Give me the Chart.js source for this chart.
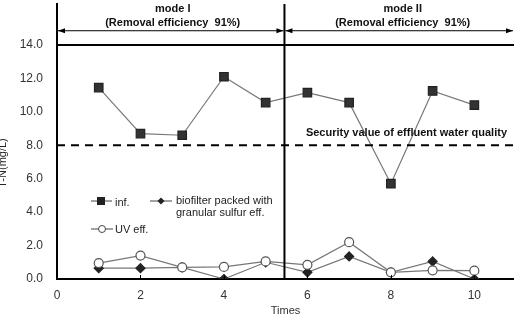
<!DOCTYPE html>
<html><head><meta charset="utf-8">
<script src="https://cdn.jsdelivr.net/npm/chart.js@4"></script>
<style>html,body{margin:0;padding:0;background:#fff}#wrap{width:514px;height:318px}</style>
</head><body><div id="wrap"><canvas id="c" width="514" height="318"></canvas></div>
<script>
const times = [1,2,3,4,5,6,7,8,9,10];
const infValues = [11.45, 8.7, 8.6, 12.1, 10.55, 11.15, 10.55, 5.7, 11.25, 10.4];
const biofilterValues = [0.65, 0.65, 0.7, 0.0, 1.0, 0.4, 1.35, 0.4, 1.05, 0.0];
const uvValues = [0.95, 1.4, 0.7, 0.72, 1.05, 0.85, 2.2, 0.4, 0.52, 0.5];
const xTicks = [0,2,4,6,8,10];
const yTicks = [0,2,4,6,8,10,12,14];
const securityValue = 8.0;
const upperLine = 14.0;
const modeBoundary = 5.45;
const xMax = 10.95, yMax = 16.45;
const modeLabels = ["mode I","mode II"];
const modeSubLabel = "(Removal efficiency  91%)";
const securityLabel = "Security value of effluent water quality";
const legendLabels = ["inf.", ["biofilter packed with","granular sulfur eff."], "UV eff."];

const pts = v => times.map((t,i)=>({x:t,y:v[i]}));
const FONT = "'Liberation Sans', Arial, sans-serif";

const overlay = {
  id:'overlay',
  afterDatasetsDraw(chart){
    const {ctx, scales:{x,y}} = chart;
    ctx.save();
    // arrows
    const ay = y.getPixelForValue(14.85);
    const x0 = x.getPixelForValue(0), xb = x.getPixelForValue(modeBoundary), x1 = chart.width-1;
    ctx.strokeStyle='#000'; ctx.fillStyle='#000'; ctx.lineWidth=1;
    const arrow=(a,b)=>{
      ctx.beginPath(); ctx.moveTo(a,ay); ctx.lineTo(b,ay); ctx.stroke();
      [[a,1],[b,-1]].forEach(([p,d])=>{ctx.beginPath();ctx.moveTo(p,ay);ctx.lineTo(p+7*d,ay-2.5);ctx.lineTo(p+7*d,ay+2.5);ctx.closePath();ctx.fill();});
    };
    arrow(x0+1,xb-1); arrow(xb+1,x1);
    // mode labels
    ctx.fillStyle='#111'; ctx.textAlign='center'; ctx.textBaseline='middle';
    ctx.font="bold 11px "+FONT;
    ctx.fillText(modeLabels[0],(x0+xb)/2+2,9);
    ctx.fillText(modeSubLabel,(x0+xb)/2+2,23);
    ctx.fillText(modeLabels[1],(xb+x1)/2+4,9);
    ctx.fillText(modeSubLabel,(xb+x1)/2+4,23);
    // security label
    ctx.textAlign='right';
    ctx.fillText(securityLabel,507,y.getPixelForValue(securityValue)-12);
    // y axis title (cut at left)
    ctx.save();
    ctx.translate(3,163); ctx.rotate(-Math.PI/2);
    ctx.textAlign='center'; ctx.font="11px "+FONT; ctx.fillStyle='#222';
    ctx.fillText("T-N(mg/L)",0,0);
    ctx.restore();
    // x tick marks inside
    ctx.strokeStyle='#000'; ctx.lineWidth=1;
    xTicks.forEach(t=>{ if(t===0) return; const px=Math.round(x.getPixelForValue(t))+0.5; ctx.beginPath(); ctx.moveTo(px,y.getPixelForValue(0)); ctx.lineTo(px,y.getPixelForValue(0)-4); ctx.stroke();});
    // legend
    ctx.lineWidth=1; ctx.strokeStyle='#444';
    ctx.textAlign='left'; ctx.font="11px "+FONT; ctx.fillStyle='#222';
    // inf
    ctx.beginPath(); ctx.moveTo(91,201); ctx.lineTo(112,201); ctx.stroke();
    ctx.fillStyle='#222'; ctx.fillRect(97,197,8,8);
    ctx.fillText(legendLabels[0],115,203);
    // biofilter
    ctx.beginPath(); ctx.moveTo(150,201); ctx.lineTo(172,201); ctx.stroke();
    ctx.beginPath(); ctx.moveTo(161,197.5); ctx.lineTo(164.5,201); ctx.lineTo(161,204.5); ctx.lineTo(157.5,201); ctx.closePath(); ctx.fill();
    ctx.fillText(legendLabels[1][0],176,201);
    ctx.fillText(legendLabels[1][1],176,213);
    // UV
    ctx.beginPath(); ctx.moveTo(91,229); ctx.lineTo(113,229); ctx.stroke();
    ctx.beginPath(); ctx.arc(102,229,3.5,0,Math.PI*2); ctx.fillStyle='#fff'; ctx.fill(); ctx.stroke();
    ctx.fillStyle='#222'; ctx.fillText(legendLabels[2],115,230);
    ctx.restore();
  }
};

new Chart(document.getElementById('c'),{
  type:'scatter',
  data:{datasets:[
    {label:'bound14',data:[{x:0,y:upperLine},{x:xMax,y:upperLine}],showLine:true,borderColor:'#000',borderWidth:2,pointRadius:0},
    {label:'security',data:[{x:0,y:securityValue},{x:xMax,y:securityValue}],showLine:true,borderColor:'#000',borderWidth:2,borderDash:[8,6],pointRadius:0},
    {label:'boundary',data:[{x:modeBoundary,y:0},{x:modeBoundary,y:yMax}],showLine:true,borderColor:'#000',borderWidth:2,pointRadius:0},
    {label:'UV eff.',data:pts(uvValues),showLine:true,borderColor:'#777',borderWidth:1.2,pointStyle:'circle',pointRadius:4.5,pointBackgroundColor:'#fff',pointBorderColor:'#555',pointBorderWidth:1.2},
    {label:'biofilter',data:pts(biofilterValues),showLine:true,borderColor:'#777',borderWidth:1.2,pointStyle:'rectRot',pointRadius:4.5,pointBackgroundColor:'#222',pointBorderColor:'#222'},
    {label:'inf.',data:pts(infValues),showLine:true,borderColor:'#777',borderWidth:1.2,pointStyle:'rect',pointRadius:6,pointBackgroundColor:'#333',pointBorderColor:'#222'}
  ]},
  options:{
    responsive:false,animation:false,
    layout:{autoPadding:false,padding:{top:4,right:0,left:0,bottom:0}},
    plugins:{legend:{display:false},tooltip:{enabled:false}},
    scales:{
      x:{type:'linear',min:0,max:xMax,
        afterBuildTicks:s=>{s.ticks=xTicks.map(v=>({value:v}));},
        afterFit:s=>{s.height=39;s.paddingLeft=0;s.paddingRight=0;s.paddingTop=0;s.paddingBottom=0;},
        grid:{display:false,drawTicks:false},
        border:{color:'#000',width:2},
        ticks:{padding:9,color:'#333',font:{family:FONT,size:12},maxRotation:0},
        title:{display:true,text:'Times',color:'#333',font:{family:FONT,size:11},padding:{top:2,bottom:0}}
      },
      y:{type:'linear',min:0,max:yMax,
        afterBuildTicks:s=>{s.ticks=yTicks.map(v=>({value:v}));},
        afterFit:s=>{s.width=57;s.paddingLeft=0;s.paddingRight=0;s.paddingTop=0;s.paddingBottom=0;},
        grid:{display:false,drawTicks:false},
        border:{color:'#000',width:2},
        ticks:{padding:14,color:'#333',font:{family:FONT,size:12},callback:v=>v.toFixed(1)}
      }
    }
  },
  plugins:[overlay]
});
</script></body></html>
